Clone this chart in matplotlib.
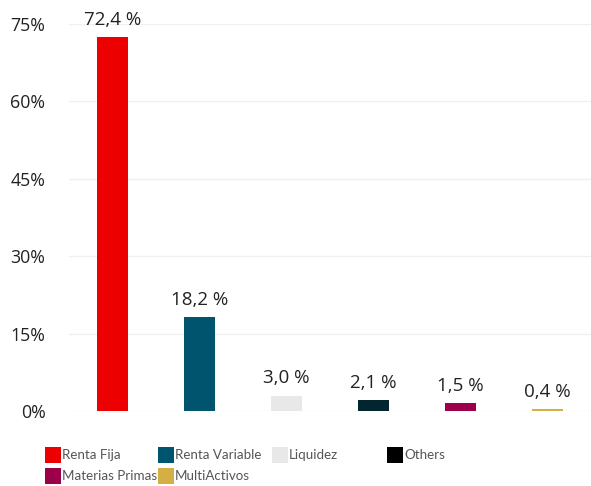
import matplotlib
matplotlib.use("Agg")
import matplotlib.pyplot as plt
from matplotlib.patches import Rectangle

categories = ["Renta Fija", "Renta Variable", "Liquidez", "Others", "Materias Primas", "MultiActivos"]
values = [72.4, 18.2, 3.0, 2.1, 1.5, 0.4]
bar_colors = ["#EC0000", "#00546E", "#E8E8E8", "#01262F", "#9C004A", "#D4AF45"]
legend_colors = ["#EC0000", "#00546E", "#E8E8E8", "#000000", "#9C004A", "#D4AF45"]
yticks = [0, 15, 30, 45, 60, 75]

plt.rcParams['font.family'] = ['Open Sans', 'DejaVu Sans']

W, H = 591, 486
fig = plt.figure(figsize=(W / 100, H / 100), dpi=100)
ax = fig.add_axes([69 / W, (H - 411) / H, (W - 69) / W, (411 - 24) / H])

x = range(len(categories))
ax.bar(x, values, width=0.36, color=bar_colors, zorder=3)
ax.set_xlim(-0.5, len(categories) - 0.5)
ax.set_ylim(0, 75)
ax.set_yticks(yticks)
ax.set_yticklabels([f"{t}%" for t in yticks])
ax.tick_params(axis='y', length=0, pad=17, labelsize=12.8, labelcolor="#222222")
ax.set_xticks([])
ax.grid(axis='y', color="#F0F0F0", linewidth=1, zorder=0)
for s in ax.spines.values():
    s.set_visible(False)

for xi, v in zip(x, values):
    ax.annotate(f"{v:.1f} %".replace(".", ","), (xi, v), xytext=(0, 6),
                textcoords="offset points", ha="center", va="bottom",
                fontsize=13.5, color="#222222", clip_on=False)

# legend
col_x = [45, 158, 272, 387]
row_y = [455, 476]
for i, (lab, c) in enumerate(zip(categories, legend_colors)):
    r, cidx = divmod(i, 4)
    x0 = col_x[cidx]
    yc = row_y[r]
    fig.patches.append(Rectangle((x0 / W, (H - yc - 8) / H), 16 / W, 16 / H,
                                 transform=fig.transFigure, facecolor=c, edgecolor="none"))
    fig.text((x0 + 17) / W, (H - yc) / H, lab, fontsize=9.6, color="#555555",
             ha="left", va="center", family=['Lato', 'DejaVu Sans'])

fig.savefig("out.png", dpi=100)
